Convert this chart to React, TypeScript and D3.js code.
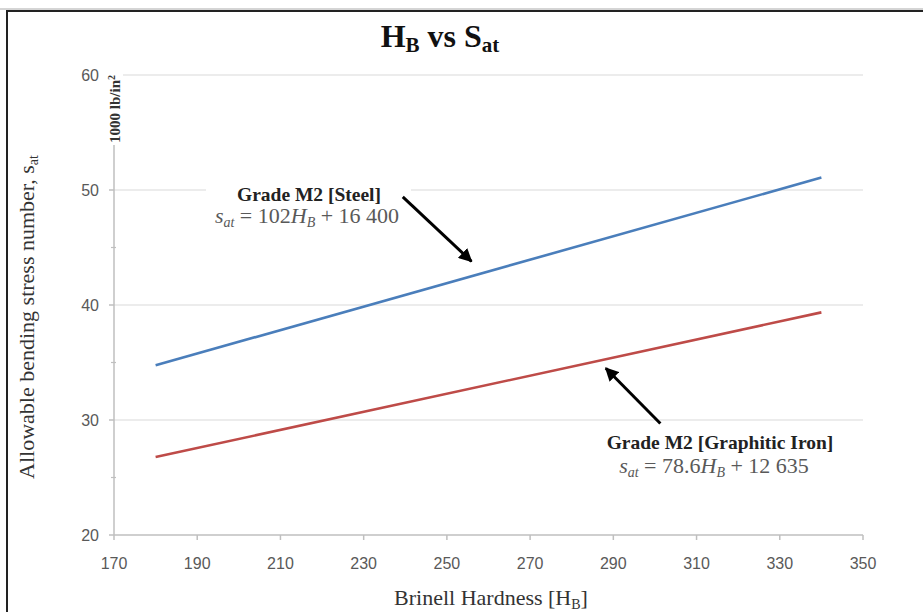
import React from 'react';
import * as d3 from 'd3';

const W = 923;
const H = 612;
const margin = { top: 75, right: 60, bottom: 77, left: 114 };

// Brinell hardness endpoints and allowable bending stress (1000 lb/in^2)
const hardness = [180, 340];
const steel = [34.76, 51.08];
const graphiticIron = [26.78, 39.36];

const xTicks = [170, 190, 210, 230, 250, 270, 290, 310, 330, 350];
const yTicks = [20, 30, 40, 50, 60];
const yMinorTicks = [25, 35, 45, 55];

const series = [
  { name: 'Grade M2 [Steel]', values: steel, color: '#4a7ebb' },
  { name: 'Grade M2 [Graphitic Iron]', values: graphiticIron, color: '#be4b48' },
];

const serif = '"Liberation Serif", "Times New Roman", serif';
const sans = '"Liberation Sans", Arial, sans-serif';

const App = () => {
  const x = d3.scaleLinear().domain([170, 350]).range([margin.left, W - margin.right]);
  const y = d3.scaleLinear().domain([20, 60]).range([H - margin.bottom, margin.top]);
  const line = d3.line<[number, number]>().x(d => x(d[0])).y(d => y(d[1]));

  const x0 = x(170);
  const x1 = x(350);
  const yBase = y(20);

  // arrows in data space: [from, to]
  const steelArrow = [[239.4, 49.4], [255.9, 43.8]];
  const ironArrow = [[301.3, 29.7], [288.2, 34.5]];

  return (
    <svg width={W} height={H} style={{ position: 'absolute', left: 0, top: 0, background: '#fff' }}>
      <defs>
        <marker id="arrowHead" viewBox="0 0 10 10" refX="9" refY="5" markerWidth="4.5" markerHeight="4.5" orient="auto">
          <path d="M0,0 L10,5 L0,10 z" fill="#000" />
        </marker>
      </defs>
      <rect width={W} height={H} fill="#fff" />
      {/* frame */}
      <line x1={0} x2={W} y1={9} y2={9} stroke="#aaa" strokeWidth={1} />
      <line x1={6} x2={W} y1={11} y2={11} stroke="#222" strokeWidth={2} />
      <line x1={7} x2={7} y1={10} y2={H} stroke="#222" strokeWidth={2} />

      {/* grid */}
      {yTicks.filter(t => t > 20).map(t => (
        <line key={t} x1={x0} x2={x1} y1={y(t)} y2={y(t)} stroke="#d9d9d9" strokeWidth={1.2} />
      ))}

      {/* y axis */}
      <line x1={x0} x2={x0} y1={y(60)} y2={yBase} stroke="#bfbfbf" strokeWidth={1.5} />
      {yTicks.map(t => (
        <line key={t} x1={x0 - 5} x2={x0} y1={y(t)} y2={y(t)} stroke="#bfbfbf" strokeWidth={1.5} />
      ))}
      {yMinorTicks.map(t => (
        <line key={t} x1={x0 - 3} x2={x0 + 2} y1={y(t)} y2={y(t)} stroke="#bfbfbf" strokeWidth={1.2} />
      ))}
      {yTicks.map(t => (
        <text key={t} x={x0 - 15} y={y(t)} dy="0.35em" textAnchor="end" fontFamily={sans} fontSize={16} fill="#595959">{t}</text>
      ))}

      {/* x axis */}
      <line x1={x0} x2={x1} y1={yBase} y2={yBase} stroke="#bfbfbf" strokeWidth={1.5} />
      {xTicks.map(t => (
        <line key={t} x1={x(t)} x2={x(t)} y1={yBase} y2={yBase + 5} stroke="#bfbfbf" strokeWidth={1.5} />
      ))}
      {xTicks.map(t => (
        <text key={t} x={x(t)} y={yBase + 34} textAnchor="middle" fontFamily={sans} fontSize={16} fill="#595959">{t}</text>
      ))}

      {/* units label over the top of the y axis */}
      <rect x={x0 - 9} y={y(60) - 2} width={18} height={72} fill="#fff" />
      <text transform={`translate(${x0 + 6},${y(60) + 34}) rotate(-90)`} textAnchor="middle" fontFamily={serif} fontWeight="bold" fontSize={15} fill="#333">
        1000  lb/in<tspan dy="-5" fontSize={10}>2</tspan>
      </text>

      {/* series */}
      {series.map(s => (
        <path key={s.name} d={line(hardness.map((h, i) => [h, s.values[i]]) as [number, number][]) || ''}
          fill="none" stroke={s.color} strokeWidth={2.6} />
      ))}

      {/* steel annotation */}
      <rect x={206} y={y(50) - 15} width={205} height={52} fill="#fff" />
      <text x={309} y={201} textAnchor="middle" fontFamily={serif} fontWeight="bold" fontSize={19.5} fill="#222">Grade M2 [Steel]</text>
      <text x={307} y={223} textAnchor="middle" fontFamily={serif} fontSize={22} fill="#595959">
        <tspan fontStyle="italic">s</tspan><tspan fontStyle="italic" fontSize={14} dy="4">at</tspan>
        <tspan dy="-4"> = 102</tspan><tspan fontStyle="italic">H</tspan><tspan fontStyle="italic" fontSize={14} dy="4">B</tspan>
        <tspan dy="-4"> + 16 400</tspan>
      </text>
      <line x1={x(steelArrow[0][0])} y1={y(steelArrow[0][1])} x2={x(steelArrow[1][0])} y2={y(steelArrow[1][1])}
        stroke="#000" strokeWidth={3} markerEnd="url(#arrowHead)" />

      {/* graphitic iron annotation */}
      <text x={720} y={449} textAnchor="middle" fontFamily={serif} fontWeight="bold" fontSize={19.5} fill="#222">Grade M2 [Graphitic Iron]</text>
      <text x={714} y={473} textAnchor="middle" fontFamily={serif} fontSize={22} fill="#595959">
        <tspan fontStyle="italic">s</tspan><tspan fontStyle="italic" fontSize={14} dy="4">at</tspan>
        <tspan dy="-4"> = 78.6</tspan><tspan fontStyle="italic">H</tspan><tspan fontStyle="italic" fontSize={14} dy="4">B</tspan>
        <tspan dy="-4"> + 12 635</tspan>
      </text>
      <line x1={x(ironArrow[0][0])} y1={y(ironArrow[0][1])} x2={x(ironArrow[1][0])} y2={y(ironArrow[1][1])}
        stroke="#000" strokeWidth={3} markerEnd="url(#arrowHead)" />

      {/* title */}
      <text x={440} y={47} textAnchor="middle" fontFamily={serif} fontWeight="bold" fontSize={32} fill="#111">
        H<tspan fontSize={21} dy="5">B</tspan><tspan dy="-5"> vs S</tspan><tspan fontSize={21} dy="5">at</tspan>
      </text>

      {/* axis titles */}
      <text transform={`translate(34,${y(40) + 12}) rotate(-90)`} textAnchor="middle" fontFamily={serif} fontSize={22} fill="#333">
        Allowable bending stress number, s<tspan fontSize={14} dy="4">at</tspan>
      </text>
      <text x={491} y={605} textAnchor="middle" fontFamily={serif} fontSize={22} fill="#333">
        Brinell Hardness [H<tspan fontSize={14} dy="4">B</tspan><tspan dy="-4">]</tspan>
      </text>
    </svg>
  );
};

export default App;
